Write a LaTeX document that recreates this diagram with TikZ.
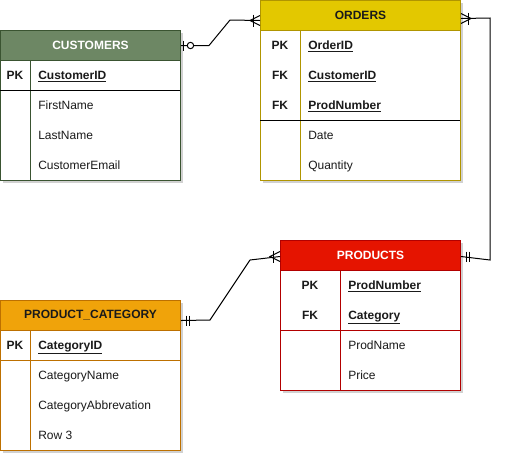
\documentclass[tikz,border=0pt]{standalone}
\usepackage{fontspec}
\setmainfont{Liberation Sans}
\usetikzlibrary{shadows}
\definecolor{cgF}{HTML}{6D8764}
\definecolor{cgS}{HTML}{3A5431}
\definecolor{oyF}{HTML}{E3C800}
\definecolor{oyS}{HTML}{B09500}
\definecolor{prF}{HTML}{E51400}
\definecolor{prS}{HTML}{B20000}
\definecolor{pcF}{HTML}{F0A30A}
\definecolor{pcS}{HTML}{BD7000}
\definecolor{txt}{HTML}{1A1A1A}
\tikzset{
  tframe/.style={draw, fill=white, line width=0.75pt, inner sep=0pt, anchor=north west,
    drop shadow={shadow xshift=2.2pt, shadow yshift=-2.2pt, opacity=0.18, fill=black}},
  hdr/.style={draw, line width=0.75pt, inner sep=0pt, minimum height=22.5pt, anchor=north west,
    font=\bfseries\fontsize{9}{11}\selectfont},
  keytxt/.style={font=\bfseries\fontsize{9}{11}\selectfont, text=txt, inner sep=0pt, anchor=base, yshift=-3.2pt},
  keyname/.style={font=\bfseries\fontsize{9}{11}\selectfont, text=txt, inner sep=0pt, anchor=base west, yshift=-3.2pt},
  attr/.style={font=\fontsize{9}{11}\selectfont, text=txt, inner sep=0pt, anchor=base west, yshift=-3.2pt},
  rel/.style={line width=0.75pt, black},
  mk/.style={line width=0.75pt, black},
}
\newcommand{\ul}[1]{\underline{#1}}
\begin{document}
\begin{tikzpicture}[x=0.75pt, y=-0.75pt]
\useasboundingbox (0,0) rectangle (511,462);

% ---------------- CUSTOMERS ----------------
\node[tframe, draw=cgS, minimum width=135pt, minimum height=112.5pt] (cust) at (0,30) {};
\node[hdr, fill=cgF, draw=cgS, text=white, minimum width=135pt] (custH) at (0,30) {CUSTOMERS};
\draw[cgS, line width=0.75pt] (30,60) -- (30,180);
\draw[black, line width=0.75pt] (0,90) -- (180,90);
\node[keytxt] (custK1) at (15,75) {PK};
\node[keyname] (custN1) at (38,75) {\ul{CustomerID}};
\node[attr] (custA1) at (38,105) {FirstName};
\node[attr] (custA2) at (38,135) {LastName};
\node[attr] (custA3) at (38,165) {CustomerEmail};

% ---------------- ORDERS ----------------
\node[tframe, draw=oyS, minimum width=150pt, minimum height=135pt] (ord) at (260,0) {};
\node[hdr, fill=oyF, draw=oyS, text=txt, minimum width=150pt] (ordH) at (260,0) {ORDERS};
\draw[oyS, line width=0.75pt] (300,30) -- (300,180);
\draw[black, line width=0.75pt] (260,120) -- (460,120);
\node[keytxt] (ordK1) at (280,45) {PK};
\node[keytxt] (ordK2) at (280,75) {FK};
\node[keytxt] (ordK3) at (280,105) {FK};
\node[keyname] (ordN1) at (308,45) {\ul{OrderID}};
\node[keyname] (ordN2) at (308,75) {\ul{CustomerID}};
\node[keyname] (ordN3) at (308,105) {\ul{ProdNumber}};
\node[attr] (ordA1) at (308,135) {Date};
\node[attr] (ordA2) at (308,165) {Quantity};

% ---------------- PRODUCTS ----------------
\node[tframe, draw=prS, minimum width=135pt, minimum height=112.5pt] (prod) at (280,240) {};
\node[hdr, fill=prF, draw=prS, text=white, minimum width=135pt] (prodH) at (280,240) {PRODUCTS};
\draw[prS, line width=0.75pt] (340,270) -- (340,390);
\draw[prS, line width=0.75pt] (280,330) -- (460,330);
\node[keytxt] (prodK1) at (310,285) {PK};
\node[keytxt] (prodK2) at (310,315) {FK};
\node[keyname] (prodN1) at (348,285) {\ul{ProdNumber}};
\node[keyname] (prodN2) at (348,315) {\ul{Category}};
\node[attr] (prodA1) at (348,345) {ProdName};
\node[attr] (prodA2) at (348,375) {Price};

% ---------------- PRODUCT_CATEGORY ----------------
\node[tframe, draw=pcS, minimum width=135pt, minimum height=112.5pt] (pc) at (0,300) {};
\node[hdr, fill=pcF, draw=pcS, text=txt, minimum width=135pt] (pcH) at (0,300) {PRODUCT\_CATEGORY};
\draw[pcS, line width=0.75pt] (30,330) -- (30,450);
\draw[pcS, line width=0.75pt] (0,360) -- (180,360);
\node[keytxt] (pcK1) at (15,345) {PK};
\node[keyname] (pcN1) at (38,345) {\ul{CategoryID}};
\node[attr] (pcA1) at (38,375) {CategoryName};
\node[attr] (pcA2) at (38,405) {CategoryAbbrevation};
\node[attr] (pcA3) at (38,435) {Row 3};

% ---------------- Connectors ----------------
% CUSTOMERS -> ORDERS
\coordinate (c1a) at (custH.east);
\coordinate (c1b) at ([yshift=-3.75pt]ordH.west);
\draw[rel] (c1a) -- ++(28,0) -- (230,20) -- (c1b);
\draw[mk] ([xshift=1.5pt,yshift=3.75pt]c1a) -- ++(0,-7.5pt);
\draw[mk, fill=white] ([xshift=7.1pt]c1a) circle (2.4pt);
\draw[mk] ([xshift=-5.25pt,yshift=4.5pt]c1b) -- ++(0,-9pt);
\draw[mk] ([yshift=3.75pt]c1b) -- ([xshift=-7.5pt]c1b) -- ([yshift=-3.75pt]c1b);

% ORDERS -> PRODUCTS
\coordinate (c2a) at ([yshift=-2.25pt]ordH.east);
\coordinate (c2b) at ([yshift=-0.75pt]prodH.east);
\draw[rel] (c2a) -- (490,18) -- (490,260) -- (c2b);
\draw[mk] ([xshift=5.25pt,yshift=4.5pt]c2a) -- ++(0,-9pt);
\draw[mk] ([yshift=3.75pt]c2a) -- ([xshift=7.5pt]c2a) -- ([yshift=-3.75pt]c2a);
\draw[mk] ([xshift=3.75pt,yshift=3.75pt]c2b) -- ++(0,-7.5pt);
\draw[mk] ([xshift=6pt,yshift=3.75pt]c2b) -- ++(0,-7.5pt);

% PRODUCTS -> PRODUCT_CATEGORY
\coordinate (c3a) at ([yshift=-0.75pt]prodH.west);
\coordinate (c3b) at ([yshift=-3.75pt]pcH.east);
\draw[rel] (c3a) -- (250,260) -- (210,320) -- (c3b);
\draw[mk] ([xshift=-5.25pt,yshift=4.5pt]c3a) -- ++(0,-9pt);
\draw[mk] ([yshift=3.75pt]c3a) -- ([xshift=-7.5pt]c3a) -- ([yshift=-3.75pt]c3a);
\draw[mk] ([xshift=3.75pt,yshift=3.75pt]c3b) -- ++(0,-7.5pt);
\draw[mk] ([xshift=6pt,yshift=3.75pt]c3b) -- ++(0,-7.5pt);
\end{tikzpicture}
\end{document}
